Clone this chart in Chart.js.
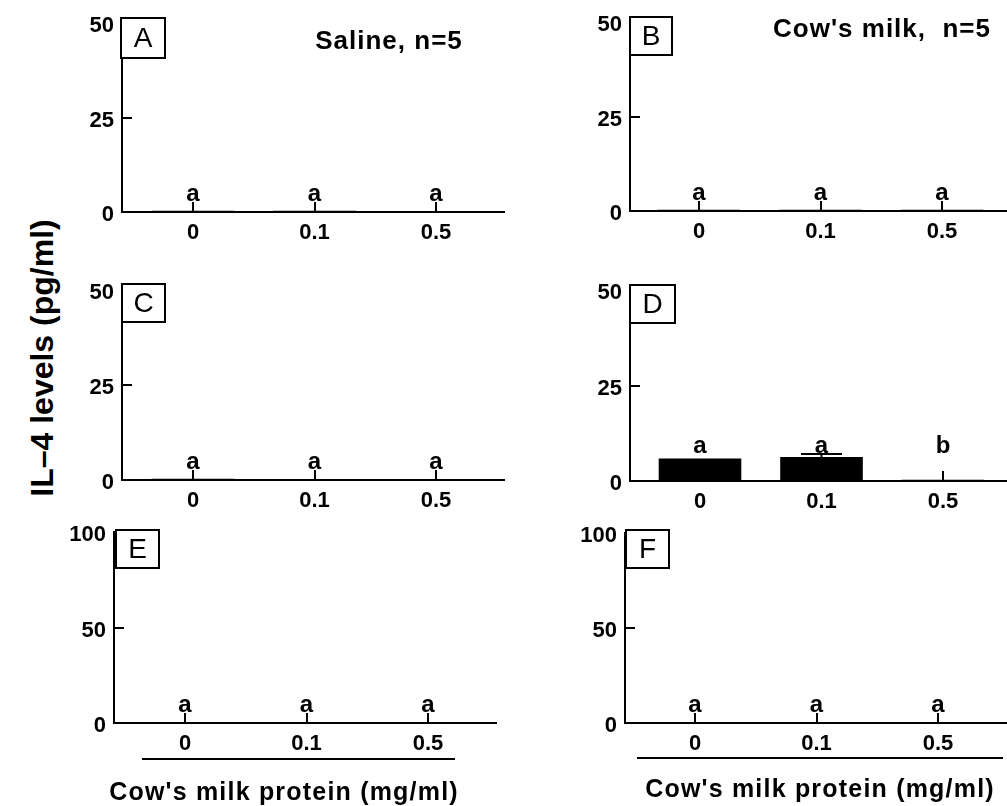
<!DOCTYPE html>
<html>
<head>
<meta charset="utf-8">
<script src="https://cdn.jsdelivr.net/npm/chart.js@4.4.0/dist/chart.umd.min.js"></script>
<style>
  html, body { margin: 0; padding: 0; background: #fff; }
  body { width: 1007px; height: 806px; position: relative; overflow: hidden; }
  canvas { position: absolute; }
  #ytitle {
    position: absolute; left: 44px; top: 358px;
    width: 400px; height: 40px; line-height: 40px;
    margin-left: -200px; margin-top: -20px;
    text-align: center; white-space: nowrap; color: #000;
    font: bold 32px "Liberation Sans", Arial, sans-serif;
    transform: rotate(-90deg);
  }
</style>
</head>
<body>
<div id="ytitle">IL–4 levels (pg/ml)</div>
<canvas id="pA"></canvas>
<canvas id="pB"></canvas>
<canvas id="pC"></canvas>
<canvas id="pD"></canvas>
<canvas id="pE"></canvas>
<canvas id="pF"></canvas>
<script>
// data
const doses = ['0', '0.1', '0.5'];

const il4A = [0.3, 0.3, 0.2];
const il4B = [0.3, 0.3, 0.3];
const il4C = [0.3, 0.2, 0.2];
const il4D = [5.9, 6.3, 0.3];
const il4E = [0.4, 0.4, 0.4];
const il4F = [0.4, 0.4, 0.4];

const semA = [0, 0, 0];
const semB = [0, 0, 0];
const semC = [0, 0, 0];
const semD = [0, 0.8, 0];
const semE = [0, 0, 0];
const semF = [0, 0, 0];

const lettersA = ['a', 'a', 'a'];
const lettersB = ['a', 'a', 'a'];
const lettersC = ['a', 'a', 'a'];
const lettersD = ['a', 'a', 'b'];
const lettersE = ['a', 'a', 'a'];
const lettersF = ['a', 'a', 'a'];

const yTicks50 = [0, 25, 50];
const yTicks100 = [0, 50, 100];

const titleA = 'Saline, n=5';
const titleB = "Cow's milk,  n=5";
const xTitle = "Cow's milk protein (mg/ml)";

// layout, page pixels
const SPACING = 121.5;
const FONT = '"Liberation Sans", Arial, sans-serif';
const layout = {
  A: {left: 122, right: 505, top: 18, bottom: 212, c0: 193, box: [121, 18, 165, 58], title: [titleA, 389, 49]},
  B: {left: 630, right: 1007, top: 17, bottom: 211, c0: 699, box: [630, 17, 672, 55], title: [titleB, 882, 37]},
  C: {left: 122, right: 505, top: 285, bottom: 480, c0: 193, box: [122, 284, 165, 322]},
  D: {left: 630, right: 1007, top: 285, bottom: 481, c0: 700, box: [630, 285, 675, 323]},
  E: {left: 114, right: 497, top: 527, bottom: 723, c0: 185, box: [116, 530, 159, 568], under: [142, 455, 759], xt: [284, 800]},
  F: {left: 625, right: 1007, top: 528, bottom: 723, c0: 695, box: [626, 530, 669, 568], under: [637, 1003, 758], xt: [820, 797]}
};

const panelPlugin = {
  id: 'panelPlugin',
  beforeDatasetsDraw(chart) {
    const {ctx, chartArea: a, scales: {x, y}} = chart;
    ctx.save();
    ctx.strokeStyle = '#000';
    ctx.lineWidth = 2;
    // inward ticks
    y.ticks.forEach(t => {
      if (t.value === 0) return;
      const py = Math.round(y.getPixelForValue(t.value));
      ctx.beginPath(); ctx.moveTo(a.left, py); ctx.lineTo(a.left + 10, py); ctx.stroke();
    });
    doses.forEach((d, i) => {
      const px = Math.round(x.getPixelForValue(i));
      ctx.beginPath(); ctx.moveTo(px, a.bottom); ctx.lineTo(px, a.bottom - 10); ctx.stroke();
    });
    ctx.restore();
  },
  afterDatasetsDraw(chart) {
    const {ctx, chartArea: a, scales: {x, y}} = chart;
    const p = chart.options.plugins.panelPlugin;
    const L = p.L, ox = p.ox, oy = p.oy;
    ctx.save();
    ctx.strokeStyle = '#000';
    ctx.fillStyle = '#000';
    ctx.lineWidth = 2;
    // error bars
    let top = a.bottom - 10;
    p.vals.forEach((v, i) => {
      const px = x.getPixelForValue(i);
      const yb = y.getPixelForValue(v);
      top = Math.min(top, yb);
      if (p.sem[i] > 0) {
        const yt = Math.round(y.getPixelForValue(v + p.sem[i]));
        ctx.beginPath(); ctx.moveTo(px, yb); ctx.lineTo(px, yt); ctx.stroke();
        ctx.beginPath(); ctx.moveTo(px - 20.5, yt); ctx.lineTo(px + 20.5, yt); ctx.stroke();
        top = Math.min(top, yt);
      }
    });
    // significance letters
    ctx.font = 'bold 24px ' + FONT;
    ctx.textAlign = 'center';
    ctx.textBaseline = 'alphabetic';
    p.letters.forEach((s, i) => {
      ctx.fillText(s, x.getPixelForValue(i), top - 1);
    });
    // panel letter box
    const b = L.box;
    ctx.fillStyle = '#fff';
    ctx.fillRect(b[0] - ox, b[1] - oy, b[2] - b[0], b[3] - b[1]);
    ctx.strokeRect(b[0] - ox, b[1] - oy, b[2] - b[0], b[3] - b[1]);
    ctx.fillStyle = '#000';
    ctx.font = '28px ' + FONT;
    ctx.textBaseline = 'middle';
    ctx.fillText(p.name, (b[0] + b[2]) / 2 - ox, (b[1] + b[3]) / 2 + 1 - oy);
    ctx.textBaseline = 'alphabetic';
    if (L.title) {
      ctx.font = 'bold 26px ' + FONT;
      ctx.letterSpacing = '1px';
      ctx.fillText(L.title[0], L.title[1] - ox, L.title[2] - oy);
    }
    if (L.under) {
      ctx.beginPath();
      ctx.moveTo(L.under[0] - ox, L.under[2] - oy);
      ctx.lineTo(L.under[1] - ox, L.under[2] - oy);
      ctx.stroke();
      ctx.font = 'bold 25px ' + FONT;
      ctx.letterSpacing = '1.2px';
      ctx.fillText(xTitle, L.xt[0] - ox, L.xt[1] - oy);
    }
    ctx.restore();
  }
};

const makePanel = (name, vals, sem, letters, yTicks) => {
  const L = layout[name];
  const cv = document.getElementById('p' + name);
  const ox = L.left - 60, oy = L.top - 16;
  const pb = L.under ? 806 - (L.bottom + 40) : 0;
  cv.width = L.right - ox;
  cv.height = L.bottom + 40 + pb - oy;
  cv.style.left = ox + 'px';
  cv.style.top = oy + 'px';

  return new Chart(cv, {
    type: 'bar',
    data: {
      datasets: [{
        data: vals.map((v, i) => ({x: i, y: v})),
        backgroundColor: '#000',
        borderWidth: 0,
        categoryPercentage: 1,
        barPercentage: 0.68
      }]
    },
    options: {
      responsive: false,
      animation: false,
      devicePixelRatio: 1,
      layout: {padding: {top: 16, left: 0, right: 0, bottom: pb}},
      plugins: {
        legend: {display: false},
        tooltip: {enabled: false},
        panelPlugin: {L: L, ox: ox, oy: oy, name: name, vals: vals, sem: sem, letters: letters}
      },
      scales: {
        x: {
          type: 'linear',
          offset: false,
          min: -(L.c0 - L.left) / SPACING,
          max: (L.right - L.c0) / SPACING,
          afterBuildTicks: s => { s.ticks = doses.map((d, i) => ({value: i})); },
          afterFit: s => { s.height = 40; },
          grid: {display: true, drawOnChartArea: false, drawTicks: false, offset: false},
          border: {color: '#000', width: 2},
          ticks: {
            color: '#000', padding: 8, maxRotation: 0,
            font: {family: FONT, size: 22, weight: 'bold'},
            callback: (v, i) => doses[i]
          }
        },
        y: {
          min: yTicks[0],
          max: yTicks[yTicks.length - 1],
          afterBuildTicks: s => { s.ticks = yTicks.map(v => ({value: v})); },
          afterFit: s => { s.width = 60; },
          grid: {display: true, drawOnChartArea: false, drawTicks: false},
          border: {color: '#000', width: 2},
          ticks: {
            color: '#000', padding: 8, labelOffset: 3,
            font: {family: FONT, size: 22, weight: 'bold'}
          }
        }
      }
    },
    plugins: [panelPlugin]
  });
};

makePanel('A', il4A, semA, lettersA, yTicks50);
makePanel('B', il4B, semB, lettersB, yTicks50);
makePanel('C', il4C, semC, lettersC, yTicks50);
makePanel('D', il4D, semD, lettersD, yTicks50);
makePanel('E', il4E, semE, lettersE, yTicks100);
makePanel('F', il4F, semF, lettersF, yTicks100);
</script>
</body>
</html>
